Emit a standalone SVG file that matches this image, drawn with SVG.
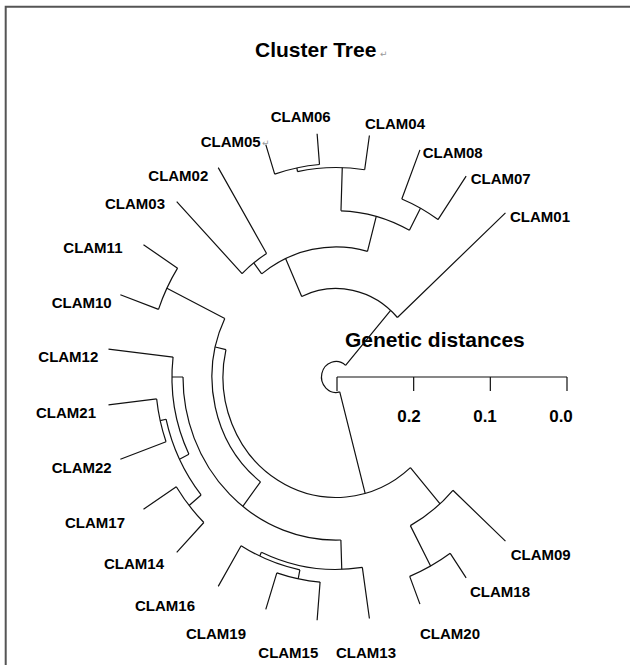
<svg xmlns="http://www.w3.org/2000/svg" width="630" height="665" viewBox="0 0 630 665">
<style>
.t{font-family:"Liberation Sans",Arial,sans-serif;font-weight:bold;font-size:15px;fill:#000}
.ttl{font-family:"Liberation Sans",Arial,sans-serif;font-weight:bold;font-size:21px;fill:#000}
.ax{font-family:"Liberation Sans",Arial,sans-serif;font-weight:bold;font-size:17px;fill:#000;text-anchor:middle}
.pm{font-family:"DejaVu Sans",sans-serif;font-size:9px;fill:#999}
.ln{fill:none;stroke:#111;stroke-width:1.2}
</style>
<rect width="630" height="665" fill="#fff"/>
<path d="M5.7,665 V6.7 H630" fill="none" stroke="#555" stroke-width="2"/>
<g id="title"><text class="ttl" x="255" y="57.3">Cluster Tree</text><text class="pm" x="380" y="57">↵</text></g>
<g id="scale">
<text class="ttl" x="345" y="346.5">Genetic distances</text>
<path class="ln" d="M337,377 H567 M337,377 V391 M413.67,377 V391 M490.33,377 V391 M567,377 V391"/>
<text class="ax" x="409" y="421.5">0.2</text>
<text class="ax" x="485" y="421.5">0.1</text>
<text class="ax" x="561" y="421.5">0.0</text>
</g>
<g id="connectors" class="ln">
<path d="M339.74,391.93 A14.5,15.46 0 1 1 345.55,365.37"/>
<path d="M345.55,365.37 L390.66,310.41 M339.74,391.93 L365.15,493.37"/>
<path d="M301.70,296.43 A83,88.48 0 0 1 397.42,317.50"/>
<path d="M261.70,273.84 A122,130.05 0 0 1 367.48,251.36"/>
<path d="M242.09,273.60 A135,143.91 0 0 1 266.57,253.58"/>
<path d="M340.98,210.78 A156,166.30 0 0 1 409.41,230.27"/>
<path d="M297.53,171.59 A196.5,209.47 0 0 1 364.67,169.77"/>
<path d="M274.68,174.08 A200,213.2 0 0 1 319.50,164.52"/>
<path d="M401.80,198.97 A179.5,191.35 0 0 1 438.01,219.56"/>
<path d="M410.42,467.66 A113,120.46 0 0 1 225.95,349.66"/>
<path d="M452.92,490.27 A158,168.43 0 0 1 410.35,525.61"/>
<path d="M450.23,553.30 A201,214.27 0 0 1 409.69,576.36"/>
<path d="M260.48,481.85 A124,132.18 0 0 1 224.78,318.56"/>
<path d="M158.51,309.32 A188.5,200.94 0 0 1 177.55,268.15"/>
<path d="M340.88,540.02 A153,163.10 0 0 1 183,377"/>
<path d="M362.33,567.35 A180.5,192.41 0 0 1 261.42,552.21"/>
<path d="M299.87,569.86 A184.5,196.68 0 0 1 241.11,545.67"/>
<path d="M320.08,582.04 A193,205.74 0 0 1 276.83,572.82"/>
<path d="M188.91,454.29 A164,174.82 0 0 1 173.07,357.04"/>
<path d="M201.09,494.99 A174.5,186.02 0 0 1 166.05,419.23"/>
<path d="M203.84,522.52 A190,202.54 0 0 1 176.29,486.72"/>
<path d="M166.04,441.80 A180.5,192.41 0 0 1 156.67,398.97"/>
<path d="M301.70,296.43 L285.59,258.57 M261.70,273.84 L253.78,262.85 M367.48,251.36 L376.25,216.34 M340.98,210.78 L342.27,167.63 M297.53,171.59 L296.84,167.94 M409.41,230.27 L420.47,208.17 M410.42,467.66 L440.06,503.76 M410.35,525.61 L430.59,566.05 M225.95,349.66 L215.24,346.99 M224.78,318.56 L166.93,288.16 M260.48,481.85 L242.82,506.37 M340.88,540.02 L341.76,569.31 M261.42,552.21 L259.76,556.10 M299.87,569.86 L298.21,578.75 M183,377 L172,377 M188.91,454.29 L179.49,459.24 M201.09,494.99 L189.11,505.47 M166.05,419.23 L160.21,420.68"/>
<path d="M173.07,357.04 L108.49,349.12 M362.33,567.35 L369.41,618.50 M241.11,545.67 L218.23,586.35 M320.08,582.04 L317.11,620.28 M276.83,572.82 L265.79,609.34 M203.84,522.52 L176.71,552.39 M176.29,486.72 L143.50,509.23 M166.04,441.80 L120.37,459.22 M156.67,398.97 L108.49,404.88 M158.51,309.32 L120.37,294.78 M177.55,268.15 L143.50,244.77 M242.09,273.60 L176.71,201.61 M266.57,253.58 L218.23,167.65 M274.68,174.08 L265.79,144.66 M319.50,164.52 L317.11,133.72 M364.67,169.77 L369.41,135.50 M401.80,198.97 L419.95,149.88 M438.01,219.56 L466.14,176.15 M397.42,317.50 L505.46,212.84 M452.92,490.27 L505.46,541.16 M450.23,553.30 L466.14,577.85 M409.69,576.36 L419.95,604.12"/>
</g>
<g id="CLAM06"><text class="t" x="270.7" y="121.7">CLAM06</text></g>
<g id="CLAM05"><text class="t" x="200.7" y="146.7">CLAM05</text><text class="pm" x="262" y="146">↵</text></g>
<g id="CLAM04"><text class="t" x="365" y="129">CLAM04</text></g>
<g id="CLAM08"><text class="t" x="422.7" y="158.3">CLAM08</text></g>
<g id="CLAM07"><text class="t" x="470.7" y="184.3">CLAM07</text></g>
<g id="CLAM01"><text class="t" x="510" y="221.7">CLAM01</text></g>
<g id="CLAM02"><text class="t" x="148.3" y="180.5">CLAM02</text></g>
<g id="CLAM03"><text class="t" x="105" y="209">CLAM03</text></g>
<g id="CLAM11"><text class="t" x="63.3" y="253.3">CLAM11</text></g>
<g id="CLAM10"><text class="t" x="51.7" y="307.7">CLAM10</text></g>
<g id="CLAM12"><text class="t" x="38.3" y="361.7">CLAM12</text></g>
<g id="CLAM21"><text class="t" x="36" y="418.3">CLAM21</text></g>
<g id="CLAM22"><text class="t" x="51.7" y="473.3">CLAM22</text></g>
<g id="CLAM17"><text class="t" x="65" y="528.3">CLAM17</text></g>
<g id="CLAM14"><text class="t" x="104" y="569.3">CLAM14</text></g>
<g id="CLAM16"><text class="t" x="135" y="610.7">CLAM16</text></g>
<g id="CLAM19"><text class="t" x="186" y="639">CLAM19</text></g>
<g id="CLAM15"><text class="t" x="258.3" y="658.3">CLAM15</text></g>
<g id="CLAM13"><text class="t" x="336" y="658.3">CLAM13</text></g>
<g id="CLAM09"><text class="t" x="510.7" y="560">CLAM09</text></g>
<g id="CLAM18"><text class="t" x="470" y="596.7">CLAM18</text></g>
<g id="CLAM20"><text class="t" x="420" y="639">CLAM20</text></g>
</svg>
